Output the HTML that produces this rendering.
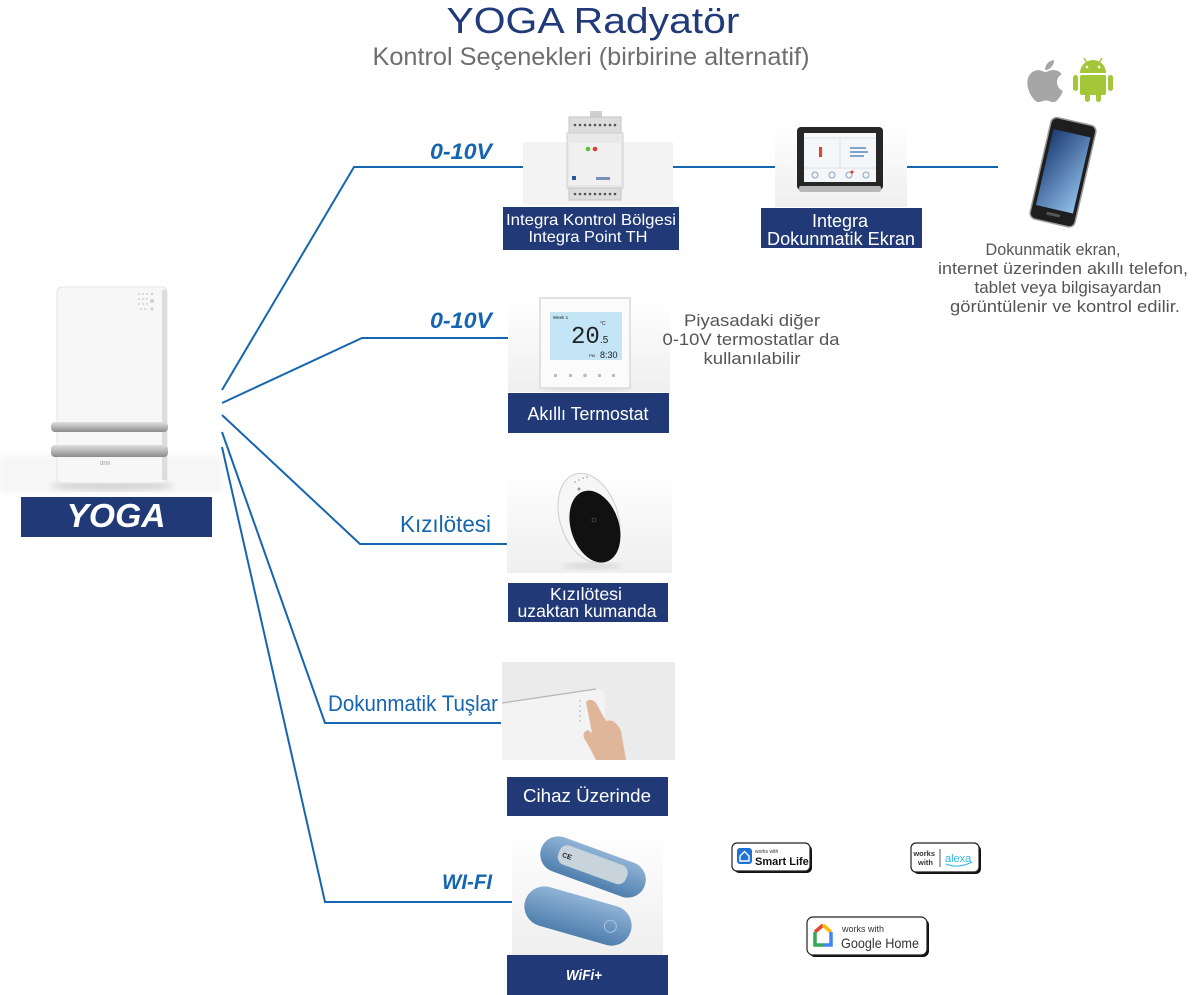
<!DOCTYPE html>
<html><head><meta charset="utf-8">
<style>
html,body{margin:0;padding:0;background:#fff;}
svg{display:block;font-family:"Liberation Sans",sans-serif;}
</style></head><body>
<svg width="1200" height="995" viewBox="0 0 1200 995" xmlns="http://www.w3.org/2000/svg">
<defs>
 <linearGradient id="bar" x1="0" y1="0" x2="0" y2="1"><stop offset="0" stop-color="#dedede"/><stop offset="0.5" stop-color="#b8b8b8"/><stop offset="1" stop-color="#8a8a8a"/></linearGradient>
 <linearGradient id="scr" x1="0" y1="0" x2="1" y2="1"><stop offset="0" stop-color="#1b3b74"/><stop offset="1" stop-color="#92c0ea"/></linearGradient>
 <linearGradient id="imgbg" x1="0" y1="0" x2="0" y2="1"><stop offset="0" stop-color="#ffffff"/><stop offset="1" stop-color="#efefef"/></linearGradient>
 <linearGradient id="cap" x1="0" y1="0" x2="0" y2="1"><stop offset="0" stop-color="#8fb3d6"/><stop offset="1" stop-color="#4f7fae"/></linearGradient>
 <filter id="blur"><feGaussianBlur stdDeviation="3"/></filter>
</defs>

<!-- Title -->
<text x="593" y="33" text-anchor="middle" font-size="36" fill="#213a7a" textLength="293" lengthAdjust="spacingAndGlyphs">YOGA Radyatör</text>
<text x="591" y="65" text-anchor="middle" font-size="25" fill="#6e6e6e" textLength="437" lengthAdjust="spacingAndGlyphs">Kontrol Seçenekleri (birbirine alternatif)</text>

<!-- Radiator -->
<rect x="0" y="455" width="222" height="38" fill="#f6f6f6" filter="url(#blur)"/>
<ellipse cx="112" cy="486" rx="62" ry="5" fill="#d6d6d6" filter="url(#blur)"/>
<rect x="57" y="287" width="110" height="196" rx="5" fill="#f7f7f7" stroke="#e6e6e6"/>
<rect x="162" y="290" width="5" height="190" fill="#dddddd"/>
<g fill="#d0d0d0">
 <circle cx="139" cy="294" r="1"/><circle cx="143" cy="294" r="1"/><circle cx="147" cy="294" r="1"/>
 <circle cx="139" cy="299" r="1"/><circle cx="143" cy="299" r="1"/><circle cx="147" cy="299" r="1"/>
 <circle cx="139" cy="304" r="1"/><circle cx="143" cy="304" r="1"/><circle cx="147" cy="304" r="1"/>
 <circle cx="141" cy="309" r="1"/><circle cx="145" cy="309" r="1"/>
 <circle cx="152" cy="294" r="1.2"/><circle cx="152" cy="301" r="2"/><circle cx="152" cy="309" r="1.5"/>
</g>
<rect x="51" y="422" width="117" height="10" rx="4" fill="url(#bar)"/>
<rect x="51" y="445" width="117" height="12" rx="4" fill="url(#bar)"/>
<text x="100" y="465" font-size="6" fill="#9a9a9a">drm</text>

<rect x="21" y="497" width="191" height="40" fill="#213a77"/>
<text x="116" y="527" text-anchor="middle" font-size="33" font-weight="bold" font-style="italic" fill="#ffffff" textLength="99" lengthAdjust="spacingAndGlyphs">YOGA</text>

<!-- Connector lines -->
<g fill="none" stroke="#1565b0" stroke-width="2">
 <polyline points="222,390 354,167 523,167"/>
 <polyline points="222,403 362,338 522,338"/>
 <polyline points="222,415 360,544 507,544"/>
 <polyline points="222,432 325,723 501,723"/>
 <polyline points="222,447 325,902 523,902"/>
 <line x1="673" y1="167" x2="775" y2="167"/>
 <line x1="907" y1="167" x2="998" y2="167"/>
</g>

<!-- Branch labels -->
<g fill="#1565b0">
 <text x="430" y="159" font-size="22" font-weight="bold" font-style="italic" textLength="62" lengthAdjust="spacingAndGlyphs">0-10V</text>
 <text x="430" y="328" font-size="22" font-weight="bold" font-style="italic" textLength="62" lengthAdjust="spacingAndGlyphs">0-10V</text>
 <text x="400" y="532" font-size="23" textLength="91" lengthAdjust="spacingAndGlyphs">Kızılötesi</text>
 <text x="328" y="711" font-size="22" textLength="170" lengthAdjust="spacingAndGlyphs">Dokunmatik Tuşlar</text>
 <text x="442" y="889" font-size="21" font-weight="bold" font-style="italic" textLength="50" lengthAdjust="spacingAndGlyphs">WI-FI</text>
</g>

<!-- Integra Kontrol device -->
<rect x="523" y="142" width="150" height="63" fill="#f3f3f3"/>
<rect x="590" y="111" width="12" height="6" fill="#cfcfcf"/>
<rect x="569" y="117" width="52" height="16" fill="#dcdcdc" stroke="#c4c4c4"/>
<g fill="#555"><circle cx="575" cy="125" r="1.3"/><circle cx="580" cy="125" r="1.3"/><circle cx="585" cy="125" r="1.3"/><circle cx="590" cy="125" r="1.3"/><circle cx="595" cy="125" r="1.3"/><circle cx="600" cy="125" r="1.3"/><circle cx="605" cy="125" r="1.3"/><circle cx="610" cy="125" r="1.3"/><circle cx="615" cy="125" r="1.3"/></g>
<rect x="567" y="133" width="56" height="55" fill="#e8e8e8" stroke="#cfcfcf"/>
<rect x="569" y="143" width="52" height="42" fill="#f0f0f0"/>
<circle cx="588" cy="149" r="2.3" fill="#5cbf3a"/><circle cx="595" cy="149" r="2.3" fill="#e53b2e"/>
<rect x="572" y="176" width="4" height="4" fill="#2a56a0"/>
<rect x="596" y="177" width="14" height="3" fill="#7a8fb5"/>
<rect x="569" y="188" width="52" height="12" fill="#dcdcdc" stroke="#c4c4c4"/>
<g fill="#555"><circle cx="575" cy="194" r="1.3"/><circle cx="580" cy="194" r="1.3"/><circle cx="585" cy="194" r="1.3"/><circle cx="590" cy="194" r="1.3"/><circle cx="595" cy="194" r="1.3"/><circle cx="600" cy="194" r="1.3"/><circle cx="605" cy="194" r="1.3"/><circle cx="610" cy="194" r="1.3"/><circle cx="615" cy="194" r="1.3"/></g>
<rect x="503" y="207" width="176" height="43" fill="#213a77"/>
<text x="591" y="225" text-anchor="middle" font-size="16" fill="#fff" textLength="170" lengthAdjust="spacingAndGlyphs">Integra Kontrol Bölgesi</text>
<text x="588" y="242" text-anchor="middle" font-size="16" fill="#fff" textLength="119" lengthAdjust="spacingAndGlyphs">Integra Point TH</text>

<!-- Tablet -->
<rect x="775" y="123" width="132" height="84" fill="url(#imgbg)"/>
<rect x="797" y="127" width="86" height="63" rx="4" fill="#262626"/>
<rect x="799" y="186" width="82" height="6" rx="2" fill="#b8b8b8"/>
<rect x="804" y="133" width="72" height="49" fill="#f5f6f8"/>
<line x1="804" y1="138" x2="876" y2="138" stroke="#e0e0e0"/>
<line x1="840" y1="138" x2="840" y2="168" stroke="#e0e0e0"/>
<line x1="804" y1="168" x2="876" y2="168" stroke="#e0e0e0"/>
<rect x="819" y="147" width="3" height="10" fill="#d9432e"/>
<g stroke="#3a6fb5" stroke-width="1.2"><line x1="850" y1="148" x2="866" y2="148"/><line x1="850" y1="152" x2="868" y2="152"/><line x1="850" y1="156" x2="864" y2="156"/></g>
<g fill="none" stroke="#8aa0c0"><circle cx="815" cy="175" r="3"/><circle cx="832" cy="175" r="3"/><circle cx="849" cy="175" r="3"/><circle cx="866" cy="175" r="3"/></g>
<circle cx="852" cy="172" r="1.5" fill="#e33"/>
<rect x="761" y="208" width="161" height="40" fill="#213a77"/>
<text x="840" y="227" text-anchor="middle" font-size="18" fill="#fff" textLength="56" lengthAdjust="spacingAndGlyphs">Integra</text>
<text x="841" y="245" text-anchor="middle" font-size="18" fill="#fff" textLength="148" lengthAdjust="spacingAndGlyphs">Dokunmatik Ekran</text>

<!-- Apple & Android -->
<path transform="translate(1023,59) scale(0.26)" fill="#a6a6a6" d="M150.37 130.25c-2.45 5.66-5.350 10.870-8.710 15.660-4.580 6.530-8.330 11.050-11.220 13.560-4.480 4.120-9.280 6.230-14.420 6.350-3.690 0-8.140-1.050-13.320-3.180-5.197-2.120-9.973-3.170-14.340-3.170-4.580 0-9.492 1.050-14.746 3.170-5.262 2.140-9.501 3.250-12.742 3.360-4.929 0.210-9.842-1.960-14.746-6.520-3.130-2.730-7.045-7.410-11.735-14.040-5.032-7.080-9.169-15.290-12.410-24.650-3.471-10.110-5.211-19.900-5.211-29.378 0-10.857 2.346-20.221 7.045-28.068 3.693-6.303 8.606-11.275 14.755-14.925s12.793-5.510 19.948-5.629c3.915 0 9.049 1.211 15.429 3.591 6.362 2.388 10.447 3.599 12.238 3.599 1.339 0 5.877-1.416 13.570-4.239 7.275-2.618 13.415-3.702 18.445-3.275 13.630 1.100 23.870 6.473 30.680 16.153-12.190 7.386-18.220 17.731-18.100 31.002 0.110 10.337 3.860 18.939 11.230 25.769 3.340 3.170 7.070 5.620 11.220 7.360-0.900 2.610-1.850 5.110-2.860 7.510zm-31.260-123.010c0 8.1021-2.960 15.667-8.860 22.669-7.120 8.324-15.732 13.134-25.071 12.375-0.119-0.972-0.188-1.995-0.188-3.070 0-7.778 3.386-16.102 9.399-22.908 3.002-3.446 6.820-6.311 11.450-8.597 4.620-2.252 8.990-3.497 13.100-3.710 0.120 1.083 0.170 2.166 0.170 3.241z"/>
<g fill="#a4c639">
 <path d="M1080,73 A13,13 0 0 1 1106,73 Z"/>
 <line x1="1084" y1="58" x2="1087" y2="63" stroke="#a4c639" stroke-width="1.5"/>
 <line x1="1102" y1="58" x2="1099" y2="63" stroke="#a4c639" stroke-width="1.5"/>
 <rect x="1080" y="75" width="26" height="20" rx="2"/>
 <rect x="1073" y="75" width="5" height="16" rx="2.5"/>
 <rect x="1108" y="75" width="5" height="16" rx="2.5"/>
 <rect x="1085" y="92" width="5" height="10" rx="2.5"/>
 <rect x="1096" y="92" width="5" height="10" rx="2.5"/>
</g>
<circle cx="1087" cy="67" r="1.3" fill="#fff"/><circle cx="1099" cy="67" r="1.3" fill="#fff"/>

<!-- Phone -->
<g transform="rotate(13 1062 172)">
 <rect x="1040" y="120" width="46" height="104" rx="6" fill="#1e1e1e" stroke="#9a9a9a" stroke-width="1.5"/>
 <rect x="1044" y="132" width="38" height="78" fill="url(#scr)"/>
 <rect x="1056" y="214" width="14" height="3" rx="1.5" fill="#555"/>
</g>
<g fill="#555" font-size="16.5" text-anchor="middle">
 <text x="1053" y="255" textLength="135" lengthAdjust="spacingAndGlyphs">Dokunmatik ekran,</text>
 <text x="1063" y="274" textLength="250" lengthAdjust="spacingAndGlyphs">internet üzerinden akıllı telefon,</text>
 <text x="1068" y="293" textLength="187" lengthAdjust="spacingAndGlyphs">tablet veya bilgisayardan</text>
 <text x="1065" y="312" textLength="230" lengthAdjust="spacingAndGlyphs">görüntülenir ve kontrol edilir.</text>
</g>

<!-- Thermostat -->
<rect x="508" y="298" width="162" height="94" fill="url(#imgbg)"/>
<ellipse cx="585" cy="388" rx="45" ry="3" fill="#d8d8d8" filter="url(#blur)"/>
<rect x="540" y="298" width="90" height="90" fill="#fbfbfb" stroke="#d9d9d9" stroke-width="1.5"/>
<rect x="550" y="312" width="72" height="48" fill="#c3e5f5"/>
<text x="553" y="319" font-size="4.5" fill="#222">Week 1</text>
<text x="571" y="343" font-size="24" fill="#222" font-family="Liberation Mono,monospace">20</text>
<text x="600" y="343" font-size="10" fill="#222">.5</text>
<text x="600" y="325" font-size="5" fill="#222">°C</text>
<text x="600" y="358" font-size="9" fill="#222">8:30</text>
<text x="589" y="357" font-size="4" fill="#222">PM</text>
<g fill="#bbb"><rect x="554" y="374" width="3" height="3"/><rect x="569" y="374" width="3" height="3"/><circle cx="585" cy="375.5" r="1.8"/><rect x="598" y="374" width="3" height="3"/><rect x="612" y="374" width="3" height="3"/></g>
<rect x="508" y="393" width="161" height="40" fill="#213a77"/>
<text x="588" y="420" text-anchor="middle" font-size="18" fill="#fff" textLength="121" lengthAdjust="spacingAndGlyphs">Akıllı Termostat</text>

<g fill="#555" font-size="17" text-anchor="middle">
 <text x="752" y="326" textLength="136" lengthAdjust="spacingAndGlyphs">Piyasadaki diğer</text>
 <text x="751" y="345" textLength="177" lengthAdjust="spacingAndGlyphs">0-10V termostatlar da</text>
 <text x="752" y="364" textLength="97" lengthAdjust="spacingAndGlyphs">kullanılabilir</text>
</g>

<!-- Remote -->
<rect x="507" y="470" width="165" height="103" fill="url(#imgbg)"/>
<ellipse cx="592" cy="566" rx="30" ry="3" fill="#d6d6d6" filter="url(#blur)"/>
<g transform="rotate(-18 589 518)">
 <ellipse cx="589" cy="518" rx="29" ry="46" fill="#f6f6f6" stroke="#cfcfcf"/>
 <ellipse cx="592" cy="528" rx="24" ry="37" fill="#111"/>
</g>
<circle cx="594" cy="520" r="2" fill="none" stroke="#555" stroke-width="0.8"/>
<g fill="#999"><circle cx="575" cy="482" r="0.8"/><circle cx="579" cy="480" r="0.8"/><circle cx="583" cy="478" r="0.8"/><circle cx="587" cy="477" r="0.8"/><circle cx="579" cy="489" r="1.5"/></g>
<rect x="508" y="583" width="160" height="39" fill="#213a77"/>
<text x="586" y="600" text-anchor="middle" font-size="17.5" fill="#fff" textLength="72" lengthAdjust="spacingAndGlyphs">Kızılötesi</text>
<text x="587" y="617" text-anchor="middle" font-size="17.5" fill="#fff" textLength="139" lengthAdjust="spacingAndGlyphs">uzaktan kumanda</text>

<!-- Touch buttons -->
<rect x="502" y="662" width="173" height="98" fill="#ebebeb"/>
<path d="M502,703 L596,689 Q605,688 605,697 L605,760 L502,760 Z" fill="#f3f3f3"/>
<line x1="502" y1="703" x2="596" y2="689" stroke="#b5b5b5" stroke-width="1.2"/>
<g fill="#bbb"><circle cx="580" cy="701" r="0.9"/><circle cx="580" cy="706" r="0.9"/><circle cx="580" cy="711" r="0.9"/><circle cx="580" cy="716" r="0.9"/><circle cx="580" cy="721" r="0.9"/></g>
<path d="M586,702 Q591,697 596,703 L606,721 Q615,718 621,731 L626,760 L596,760 Q590,748 584,738 Q582,732 588,730 L592,733 Z" fill="#dfb69a"/>
<rect x="507" y="777" width="161" height="39" fill="#213a77"/>
<text x="587" y="802" text-anchor="middle" font-size="18.5" fill="#fff" textLength="128" lengthAdjust="spacingAndGlyphs">Cihaz Üzerinde</text>

<!-- WiFi -->
<rect x="512" y="825" width="151" height="130" fill="url(#imgbg)"/>
<g transform="rotate(20 593 867)">
 <rect x="538" y="849" width="110" height="36" rx="18" fill="url(#cap)"/>
 <rect x="556" y="855" width="72" height="20" rx="8" fill="#c9d3dc"/>
 <text x="560" y="868" font-size="7" fill="#222" font-weight="bold">CE</text>
</g>
<g transform="rotate(16 578 916)">
 <rect x="523" y="896" width="110" height="40" rx="20" fill="url(#cap)"/>
 <circle cx="612" cy="917" r="6" fill="none" stroke="#a9c3dc"/>
</g>
<rect x="507" y="955" width="161" height="40" fill="#213a77"/>
<text x="584" y="980" text-anchor="middle" font-size="15" font-weight="bold" font-style="italic" fill="#fff" textLength="36" lengthAdjust="spacingAndGlyphs">WiFi+</text>

<!-- Badges -->
<rect x="734" y="845" width="78" height="28" rx="5" fill="#111"/>
<rect x="732" y="843" width="78" height="28" rx="5" fill="#fff" stroke="#222" stroke-width="1.2"/>
<rect x="737" y="848" width="15" height="16" rx="3" fill="#1e74d4"/>
<path d="M740,856 L744.5,851.5 L749,856 L749,861 L740,861 Z" fill="none" stroke="#fff" stroke-width="1.4"/>
<text x="755" y="853" font-size="5" fill="#333">works with</text>
<text x="755" y="865" font-size="11" font-weight="bold" fill="#111">Smart Life</text>

<rect x="913" y="845" width="68" height="29" rx="5" fill="#111"/>
<rect x="911" y="843" width="68" height="29" rx="5" fill="#fff" stroke="#222" stroke-width="1.2"/>
<text x="935" y="856" text-anchor="end" font-size="7.5" font-weight="bold" fill="#333">works</text>
<text x="933" y="865" text-anchor="end" font-size="7.5" font-weight="bold" fill="#333">with</text>
<line x1="940" y1="849" x2="940" y2="867" stroke="#555"/>
<text x="945" y="862" font-size="11" fill="#31b6e7">alexa</text>
<path d="M946,864 Q958,869 972,862" fill="none" stroke="#31b6e7" stroke-width="1"/>

<rect x="809" y="919" width="120" height="38" rx="6" fill="#111"/>
<rect x="807" y="917" width="120" height="38" rx="6" fill="#fff" stroke="#222" stroke-width="1.2"/>
<path d="M815,932 L823,925" stroke="#ea4335" stroke-width="3.5" fill="none"/>
<path d="M823,925 L831,932" stroke="#fbbc05" stroke-width="3.5" fill="none"/>
<path d="M815,932 L815,945 L823,945" stroke="#34a853" stroke-width="3.5" fill="none"/>
<path d="M823,945 L831,945 L831,932" stroke="#4285f4" stroke-width="3.5" fill="none"/>
<text x="842" y="932" font-size="9" fill="#333">works with</text>
<text x="841" y="948" font-size="14" fill="#333" textLength="78" lengthAdjust="spacingAndGlyphs">Google Home</text>
</svg>
</body></html>
